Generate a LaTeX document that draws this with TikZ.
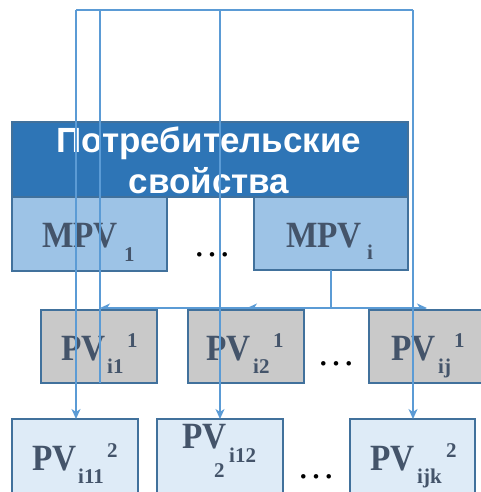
\documentclass[tikz,border=0pt]{standalone}
\usepackage{fontspec}
\usepackage{graphicx}
\setmainfont{Liberation Serif}
\newfontfamily\hdrfont{Liberation Sans}
\usetikzlibrary{arrows.meta}
\definecolor{hdrfill}{HTML}{2E75B6}
\definecolor{bordc}{HTML}{41719C}
\definecolor{mpvfill}{HTML}{9DC3E6}
\definecolor{pvafill}{HTML}{C9C9C9}
\definecolor{pvbfill}{HTML}{DEEBF7}
\definecolor{linec}{HTML}{5B9BD5}
\definecolor{txtc}{HTML}{44546A}
\newcommand{\narrowtxt}[1]{\scalebox{0.9}[1]{#1}}
\tikzset{
  boxst/.style={draw=bordc, line width=2pt, inner sep=0pt, outer sep=0pt},
  big/.style={anchor=base west, inner sep=0pt, text=txtc, font=\fontsize{37}{39}\selectfont\bfseries},
  small/.style={anchor=base west, inner sep=0pt, text=txtc, font=\fontsize{21}{23}\selectfont\bfseries},
  dotst/.style={anchor=base west, inner sep=0pt, text=black, font=\fontsize{38}{40}\selectfont},
  hdrst/.style={anchor=base, inner sep=0pt, text=white, font=\hdrfont\fontsize{35}{38}\selectfont\bfseries},
  conn/.style={draw=linec, line width=1.5pt},
  arr/.style={conn, -{Stealth[length=10pt,width=9pt,inset=3pt]}}
}
\begin{document}
\begin{tikzpicture}[x=1pt,y=-1pt]
\useasboundingbox (0,0) rectangle (480,492);
% header
\node[boxst, fill=hdrfill, minimum width=396pt, minimum height=75pt] (hdr) at (210,159.5) {};
\node[hdrst] (h1) at (209,152) {Потребительские};
\node[hdrst] (h2) at (209,193) {свойства};
% MPV boxes
\node[boxst, fill=mpvfill, minimum width=155pt, minimum height=74pt] (mpv1) at (89.5,234) {};
\node[boxst, fill=mpvfill, minimum width=154pt, minimum height=73pt] (mpvi) at (331,233.5) {};
\node[big] (mpv1t) at (42,247) {\narrowtxt{MPV}};
\node[small] (mpv1s) at (124,261) {1};
\node[big] (mpvit) at (286,247) {\narrowtxt{MPV}};
\node[small] (mpvis) at (367,259) {i};
\node[dotst] (d1) at (193,256) {\ldots};
% tree arrows (under the PV boxes)
\coordinate (jn) at (331,308);
\draw[conn] (mpvi.south) -- (jn);
\node[boxst, minimum width=116pt, minimum height=73pt, draw=none] (pv11) at (99,346.5) {};
\node[boxst, minimum width=116pt, minimum height=73pt, draw=none] (pv12) at (246,346.5) {};
\node[boxst, minimum width=116pt, minimum height=73pt, draw=none] (pv1j) at (427,346.5) {};
\draw[arr] (jn) -- (jn -| 100,0);
\draw[arr] (jn) -- (jn -| 247,0);
\draw[arr] (jn) -- (jn -| pv1j.center);
% PV level 1 boxes
\draw[draw=bordc, line width=2pt, fill=pvafill] (pv11.north west) rectangle (pv11.south east);
\draw[draw=bordc, line width=2pt, fill=pvafill] (pv12.north west) rectangle (pv12.south east);
\draw[draw=bordc, line width=2pt, fill=pvafill] (pv1j.north west) rectangle (pv1j.south east);
\node[big] (pv11t) at (61,360) {\narrowtxt{PV}};
\node[small] (pv11s) at (107,373) {i1};
\node[small] (pv11p) at (127,347) {1};
\node[big] (pv12t) at (206,360) {\narrowtxt{PV}};
\node[small] (pv12s) at (253,373) {i2};
\node[small] (pv12p) at (273,347) {1};
\node[big] (pv1jt) at (391,360) {\narrowtxt{PV}};
\node[small] (pv1js) at (438,373) {ij};
\node[small] (pv1jp) at (454,347) {1};
\node[dotst] (d2) at (317,365) {\ldots};
% PV level 2 boxes
\node[boxst, fill=pvbfill, minimum width=126pt, minimum height=80pt] (pv21) at (75,459) {};
\node[boxst, fill=pvbfill, minimum width=126pt, minimum height=80pt] (pv22) at (220,459) {};
\node[boxst, fill=pvbfill, minimum width=125pt, minimum height=80pt] (pv2k) at (412.5,459) {};
\node[big] (pv21t) at (32,470) {\narrowtxt{PV}};
\node[small] (pv21s) at (78,483) {i11};
\node[small] (pv21p) at (107,457) {2};
\node[big] (pv22t) at (182,448) {\narrowtxt{PV}};
\node[small] (pv22s) at (229,462) {i12};
\node[small] (pv22p) at (214,477) {2};
\node[big] (pv2kt) at (370,470) {\narrowtxt{PV}};
\node[small] (pv2ks) at (417,483) {ijk};
\node[small] (pv2kp) at (446,457) {2};
\node[dotst] (d3) at (297,478) {\ldots};
% feedback loop lines (on top)
\coordinate (tl) at (76,10);
\coordinate (tm) at (100,10);
\coordinate (tc) at (220,10);
\coordinate (tr) at (413,10);
\draw[conn] (tm) -- (100,383);
\draw[conn] (tl) -- (tr);
\draw[arr] (tl) -- (tl |- pv21.north);
\draw[arr] (tc) -- (tc |- pv22.north);
\draw[arr] (tr) -- (tr |- pv2k.north);
\end{tikzpicture}
\end{document}
